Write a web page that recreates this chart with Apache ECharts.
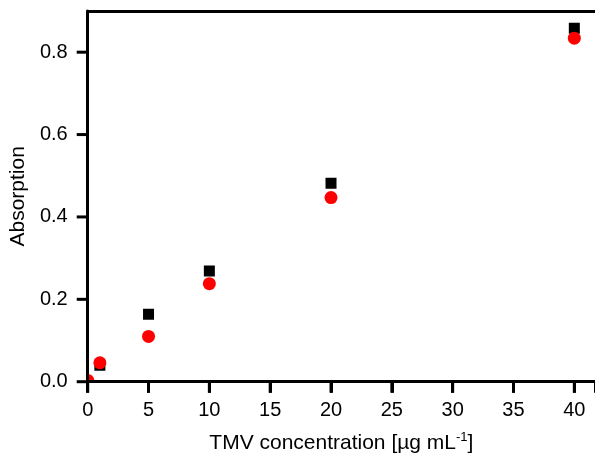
<!DOCTYPE html>
<html>
<head>
<meta charset="utf-8">
<script src="https://cdn.jsdelivr.net/npm/echarts@6/dist/echarts.min.js"></script>
<style>
  html, body { margin: 0; padding: 0; background: #fff; }
  #chart { width: 595px; height: 459px; }
</style>
</head>
<body>
<div id="chart"></div>
<script>
// TMV concentration vs absorption
var blackConc = [1, 5, 10, 20, 40];
var blackAbs = [0.040, 0.164, 0.269, 0.482, 0.858];
var redConc = [0, 1, 5, 10, 20, 40];
var redAbs = [0.003, 0.046, 0.110, 0.238, 0.447, 0.834];
var xTicks = [0, 5, 10, 15, 20, 25, 30, 35, 40];
var yTicks = [0, 0.2, 0.4, 0.6, 0.8];

var FONT = 'Liberation Sans';
var TICK_LEN = 11;

function pairs(xs, ys) {
  return xs.map(function (x, i) { return [x, ys[i]]; });
}

// clipped markers, so the point at the origin only shows inside the frame
function squareItem(params, api) {
  var p = api.coord([api.value(0), api.value(1)]);
  return {
    type: 'rect',
    shape: { x: p[0] - 5.5, y: p[1] - 5.5, width: 11, height: 11 },
    style: { fill: '#000' }
  };
}
function circleItem(params, api) {
  var p = api.coord([api.value(0), api.value(1)]);
  return {
    type: 'circle',
    shape: { cx: p[0], cy: p[1], r: 6.5 },
    style: { fill: '#ff0000' }
  };
}
// outward tick marks placed through the axis scales
function xTickItem(params, api) {
  var p = api.coord([api.value(0), 0]);
  return {
    type: 'line',
    shape: { x1: p[0], y1: p[1], x2: p[0], y2: p[1] + TICK_LEN },
    style: { stroke: '#000', lineWidth: 3 }
  };
}
function yTickItem(params, api) {
  var p = api.coord([0, api.value(1)]);
  return {
    type: 'line',
    shape: { x1: p[0], y1: p[1], x2: p[0] - TICK_LEN, y2: p[1] },
    style: { stroke: '#000', lineWidth: 3 }
  };
}

var axisLineStyle = { color: '#000', width: 3 };

var chart = echarts.init(document.getElementById('chart'), null, { renderer: 'canvas' });
var option = {
  animation: false,
  backgroundColor: '#fff',
  grid: {
    left: 84.4,
    right: 0,
    top: 11,
    bottom: 77.3,
    show: false,
    containLabel: false
  },
  xAxis: [{
    type: 'value',
    position: 'bottom',
    min: 0,
    max: 41.7,
    interval: 5,
    z: 10,
    name: 'TMV concentration [µg mL{sup|-1}]',
    nameLocation: 'middle',
    nameGap: 49,
    nameTextStyle: {
      fontFamily: FONT,
      fontSize: 21,
      color: '#000',
      rich: {
        sup: { fontFamily: FONT, fontSize: 13, color: '#000', padding: [0, 0, 12, 0] }
      }
    },
    axisLine: { show: true, onZero: false, lineStyle: axisLineStyle },
    axisTick: { show: true, inside: false, length: TICK_LEN, lineStyle: axisLineStyle },
    axisLabel: { fontFamily: FONT, fontSize: 20, color: '#000', margin: 19, customValues: xTicks },
    splitLine: { show: false }
  }, {
    // top frame line
    type: 'value',
    position: 'top',
    min: 0,
    max: 41.7,
    z: 10,
    axisLine: { show: true, onZero: false, lineStyle: axisLineStyle },
    axisTick: { show: false },
    axisLabel: { show: false },
    splitLine: { show: false }
  }],
  yAxis: {
    type: 'value',
    min: 0,
    max: 0.9,
    interval: 0.2,
    z: 10,
    name: 'Absorption',
    nameLocation: 'middle',
    nameGap: 54,
    nameRotate: 90,
    nameTextStyle: { fontFamily: FONT, fontSize: 21, color: '#000' },
    axisLine: { show: true, onZero: false, lineStyle: axisLineStyle },
    axisTick: { show: false },
    axisLabel: {
      fontFamily: FONT, fontSize: 20, color: '#000', margin: 20, customValues: yTicks,
      formatter: function (v) { return v.toFixed(1); }
    },
    splitLine: { show: false }
  },
  series: [
    {
      name: 'black',
      type: 'custom',
      clip: true,
      renderItem: squareItem,
      encode: { x: 0, y: 1 },
      data: pairs(blackConc, blackAbs)
    },
    {
      name: 'red',
      type: 'custom',
      clip: true,
      renderItem: circleItem,
      encode: { x: 0, y: 1 },
      data: pairs(redConc, redAbs)
    },
    {
      name: 'xticks',
      type: 'custom',
      clip: false,
      z: 10,
      silent: true,
      renderItem: xTickItem,
      encode: { x: 0, y: 1 },
      data: xTicks.map(function (v) { return [v, 0]; })
    },
    {
      name: 'yticks',
      type: 'custom',
      clip: false,
      z: 10,
      silent: true,
      renderItem: yTickItem,
      encode: { x: 0, y: 1 },
      data: yTicks.map(function (v) { return [0, v]; })
    }
  ]
};
chart.setOption(option);
</script>
</body>
</html>
